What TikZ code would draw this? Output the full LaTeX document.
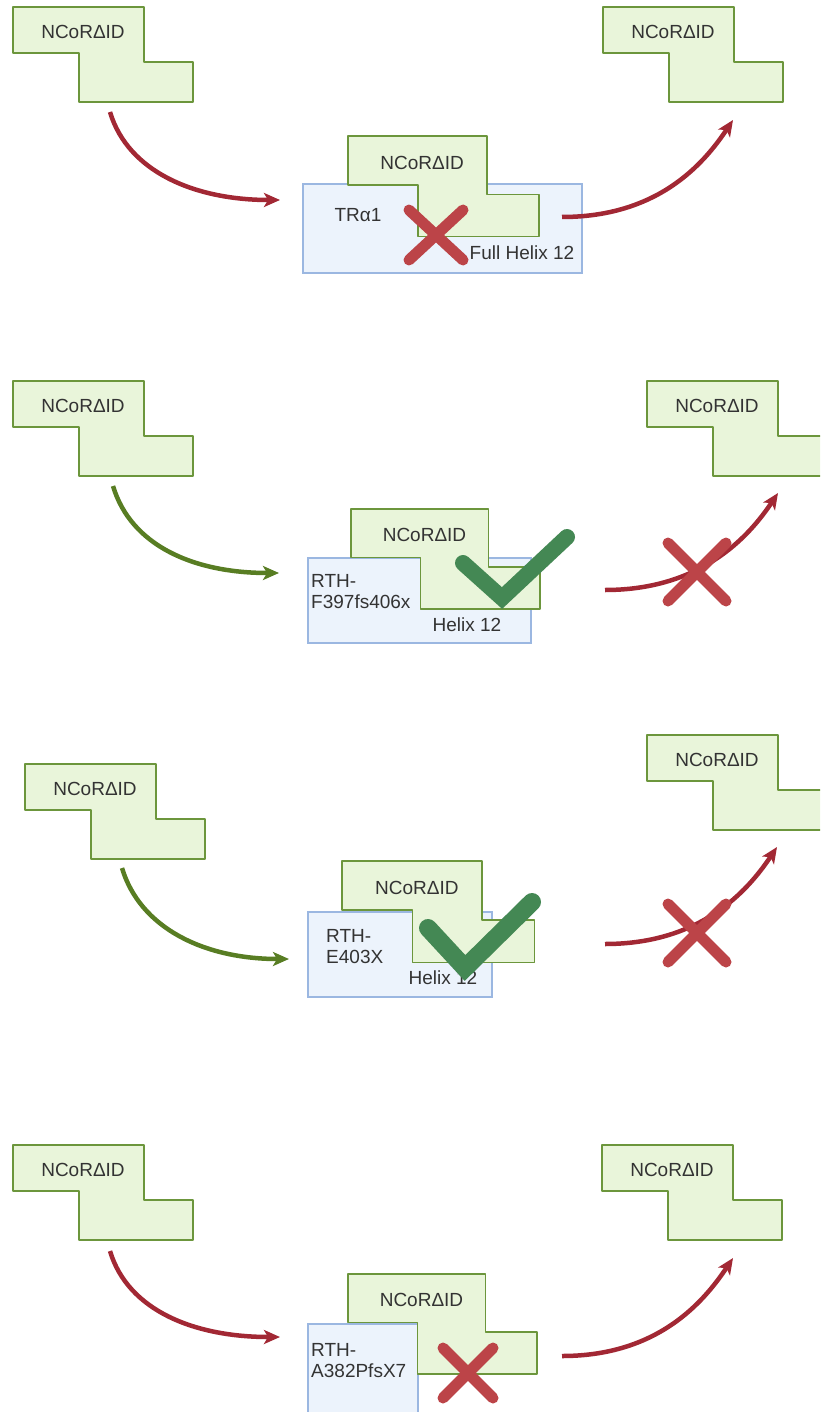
\documentclass[tikz,border=0pt]{standalone}
\usepackage{fontspec}
\setmainfont{Liberation Sans}
\usepackage{xcolor}
\usepackage{tikz}
\usetikzlibrary{arrows.meta}

\definecolor{ncorfill}{RGB}{233,245,218}
\definecolor{ncorline}{RGB}{108,150,60}
\definecolor{trfill}{RGB}{236,243,252}
\definecolor{trline}{RGB}{155,183,225}
\definecolor{arrowred}{RGB}{162,40,52}
\definecolor{arrowgreen}{RGB}{88,125,35}
\definecolor{crossred}{RGB}{188,68,72}
\definecolor{checkgreen}{RGB}{68,136,84}

% pieza NCoR: nombre, x, y, escala
\newcommand{\ncorpiece}[4]{%
    \begin{scope}[shift={(#2,#3)}, scale=#4]
        \draw[ncor] (0,0) -- (131,0) -- (131,55) -- (180,55) -- (180,95)
            -- (66,95) -- (66,46) -- (0,46) -- cycle;
        \node[lbl] (#1) at (70,25) {NCoRΔID};
    \end{scope}}

\begin{document}
\begin{tikzpicture}[x=1pt, y=-1pt,
        ncor/.style={draw=ncorline, fill=ncorfill, line width=1.5pt, line join=round},
        trbox/.style={draw=trline, fill=trfill, line width=1.3pt},
        lbl/.style={font=\fontsize{19}{21}\selectfont, inner sep=0pt, text=black!80},
        redarrow/.style={-{Stealth[length=16pt, width=14pt, inset=4pt]}, line width=4.5pt, arrowred},
        greenarrow/.style={-{Stealth[length=16pt, width=14pt, inset=4pt]}, line width=4.5pt, arrowgreen},
        nobind/.style={line width=11pt, crossred, line cap=round},
        bind/.style={line width=16pt, checkgreen, line cap=round, line join=miter}
    ]
    \useasboundingbox (0,0) rectangle (820,1412);
    \clip (0,0) rectangle (820,1412);

    % Fila 1: TRa1
    \ncorpiece{L1}{13}{7}{1}
    \ncorpiece{R1}{603}{7}{1}
    \draw[trbox] (303,184) rectangle (582,273);
    \ncorpiece{C1}{348}{136}{1.06}
    \node[lbl] (tr1) at (358,215) {TRα1};
    \node[lbl] (h1) at (522,253) {Full Helix 12};

    \coordinate (a1s) at (110,112);
    \coordinate (a1e) at (280,200);
    \coordinate (b1s) at (562,217);
    \coordinate (b1e) at (733,120);
    \draw[redarrow] (a1s) .. controls +(18,60) and +(-85,0) .. (a1e);
    \draw[redarrow] (b1s) .. controls +(95,0) and +(-30,45) .. (b1e);

    \draw[nobind] (409,210) -- (463,260);
    \draw[nobind] (463,210) -- (409,260);

    % Fila 2: F397fs406x
    \ncorpiece{L2}{13}{381}{1}
    \ncorpiece{R2}{647}{381}{1}
    \draw[trbox] (308,558) rectangle (531,643);
    \ncorpiece{C2}{351}{509}{1.05}
    \node[lbl, align=left, anchor=west] (tr2) at (311,592) {RTH-\\F397fs406x};
    \node[lbl] (h2) at (467,625) {Helix 12};

    \coordinate (a2s) at (113,486);
    \coordinate (a2e) at (279,573);
    \coordinate (b2s) at (605,590);
    \coordinate (b2e) at (778,493);
    \draw[greenarrow] (a2s) .. controls +(18,60) and +(-85,0) .. (a2e);
    \draw[redarrow] (b2s) .. controls +(95,0) and +(-30,45) .. (b2e);

    \draw[bind] (463,563) -- (502,598) -- (567,537);
    \draw[nobind] (668,543) -- (726,601);
    \draw[nobind] (726,543) -- (668,601);

    % Fila 3: E403X
    \ncorpiece{L3}{25}{764}{1}
    \ncorpiece{R3}{647}{735}{1}
    \draw[trbox] (308,912) rectangle (492,997);
    \ncorpiece{C3}{342}{861}{1.07}
    \node[lbl, align=left, anchor=west] (tr3) at (326,947) {RTH-\\E403X};
    \node[lbl] (h3) at (443,978) {Helix 12};

    \coordinate (a3s) at (122,868);
    \coordinate (a3e) at (289,959);
    \coordinate (b3s) at (605,944);
    \coordinate (b3e) at (777,847);
    \draw[greenarrow] (a3s) .. controls +(18,60) and +(-85,0) .. (a3e);
    \draw[redarrow] (b3s) .. controls +(95,0) and +(-30,45) .. (b3e);

    \draw[bind, line width=18pt] (428,928) -- (465,968) -- (532,902);
    \draw[nobind] (668,904) -- (726,962);
    \draw[nobind] (726,904) -- (668,962);

    % Fila 4: A382PfsX7
    \ncorpiece{L4}{13}{1145}{1}
    \ncorpiece{R4}{602}{1145}{1}
    \draw[trbox] (308,1324) rectangle (418,1420);
    \ncorpiece{C4}{348}{1274}{1.05}
    \node[lbl, align=left, anchor=west] (tr4) at (311,1361) {RTH-\\A382PfsX7};

    \coordinate (a4s) at (110,1251);
    \coordinate (a4e) at (280,1337);
    \coordinate (b4s) at (562,1356);
    \coordinate (b4e) at (733,1258);
    \draw[redarrow] (a4s) .. controls +(18,60) and +(-85,0) .. (a4e);
    \draw[redarrow] (b4s) .. controls +(95,0) and +(-30,45) .. (b4e);

    \draw[nobind] (443,1348) -- (493,1398);
    \draw[nobind] (493,1348) -- (443,1398);

\end{tikzpicture}
\end{document}
